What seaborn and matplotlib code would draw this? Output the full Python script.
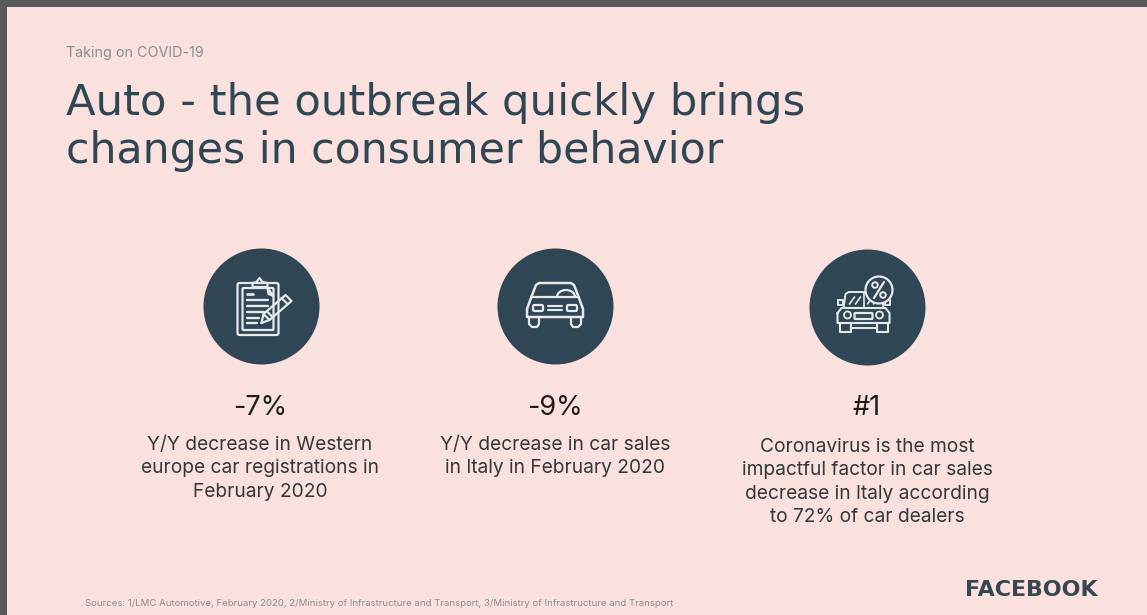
import numpy as np
import pandas as pd
import matplotlib
matplotlib.use("Agg")
import matplotlib.pyplot as plt
from matplotlib.patches import Rectangle, FancyBboxPatch, Circle, Arc
import seaborn as sns

# Slide copy
kicker = "Taking on COVID-19"
title_lines = ["Auto - the outbreak quickly brings", "changes in consumer behavior"]
stats = ["-7%", "-9%", "#1"]
descriptions = [
    "Y/Y decrease in Western\neurope car registrations in\nFebruary 2020",
    "Y/Y decrease in car sales\nin Italy in February 2020",
    "Coronavirus is the most\nimpactful factor in car sales\ndecrease in Italy according\nto 72% of car dealers",
]
sources = ("Sources: 1/LMC Automotive, February 2020, 2/Ministry of Infrastructure and Transport, "
           "3/Ministry of Infrastructure and Transport")
brand = "FACEBOOK"

# Colours
PAGE = "#FAE1DD"
FRAME = "#58595B"
DARK = "#2F4654"
GREY = "#868D96"
ICON = "#E6EAEB"

W, H = 1147, 615
sns.set_theme(style="white")
plt.rcParams["font.family"] = ["Inter", "DejaVu Sans"]

fig = plt.figure(figsize=(W / 100, H / 100), dpi=100, facecolor=FRAME)
ax = fig.add_axes([0, 0, 1, 1])
ax.axis("off")

# Slide panel inside the dark window frame
ax.add_patch(Rectangle((7, 7), W - 7, H - 7, fc=PAGE, ec="none", zorder=0))

# Badge discs
badges = pd.DataFrame({"x": [260.5, 555, 867], "y": [306, 306, 307], "stat": stats})
sns.scatterplot(data=badges, x="x", y="y", s=(116 * 0.72) ** 2, color=DARK,
                linewidth=0, ax=ax, legend=False, zorder=1)
ax.set_xlim(0, W)
ax.set_ylim(H, 0)
lw = 1.6


def seg(cx, cy, pts, width=lw):
    p = np.array(pts, dtype=float)
    ax.plot(cx + p[:, 0], cy + p[:, 1], color=ICON, lw=width, zorder=3,
            solid_capstyle="round", solid_joinstyle="round")


def rbox(cx, cy, x, y, w, h, r=1.5):
    ax.add_patch(FancyBboxPatch((cx + x, cy + y), w, h,
                                boxstyle=f"round,pad=0,rounding_size={r}",
                                fc="none", ec=ICON, lw=lw, zorder=3))


# Clipboard with pencil
cx, cy = 260.5, 306
rbox(cx, cy, -23, -23, 41, 52, 2)
rbox(cx, cy, -18, -18, 31, 42, 1)
seg(cx, cy, [(-8, -23), (-4, -24), (-1, -28), (2, -24), (7, -23), (7, -19), (-8, -19), (-8, -23)])
seg(cx, cy, [(7, -18), (13, -10), (8, -12), (7, -18)])
seg(cx, cy, [(-14, -12), (-8, -12)], 2)
for y, x2 in [(-6, 7), (0, 7), (6, 3), (12, -2), (17, -4)]:
    seg(cx, cy, [(-14, y), (x2, y)], 1.7)
seg(cx, cy, [(1, 17), (3, 8), (25, -11), (31, -5), (9, 14), (1, 17)])
seg(cx, cy, [(21, -8), (27, -2)])
seg(cx, cy, [(3, 8), (9, 14)])
seg(cx, cy, [(7, 6), (12, 11)])

# Front view of a car
cx, cy = 555, 306
seg(cx, cy, [(-28, 3), (-24, -8), (-19, -21), (-16, -23), (16, -23), (19, -21), (24, -8), (28, 3),
             (28, 11), (-28, 11), (-28, 3)], 1.8)
seg(cx, cy, [(-24, -9), (24, -9)], 1.6)
ax.add_patch(Arc((cx + 11, cy - 9), 18, 14, theta1=180, theta2=360, ec=ICON, lw=1.6, zorder=3))
rbox(cx, cy, -22, -1, 10, 6, 1.5)
rbox(cx, cy, 12, -1, 10, 6, 1.5)
seg(cx, cy, [(-7, 0), (7, 0)], 1.5)
seg(cx, cy, [(-7, 4), (7, 4)], 1.5)
seg(cx, cy, [(-26, 11), (-26, 18), (-23, 21), (-18, 21), (-16, 18), (-16, 11)], 1.6)
seg(cx, cy, [(26, 11), (26, 18), (23, 21), (18, 21), (16, 18), (16, 11)], 1.6)

# Car with a discount tag
cx, cy = 863.5, 307
seg(cx, cy, [(-20, 1), (-18, -13), (-15, -15), (15, -15), (18, -13), (20, 1)], 1.4)
seg(cx, cy, [(-26, -7), (-21, -7), (-21, -2), (-26, -2), (-26, -7)], 1.4)
seg(cx, cy, [(26, -7), (21, -7), (21, -2), (26, -2), (26, -7)], 1.4)
seg(cx, cy, [(-14, -3), (-9, -10)], 1.2)
seg(cx, cy, [(-8, -3), (-3, -10)], 1.2)
seg(cx, cy, [(4, -3), (9, -10)], 1.2)
seg(cx, cy, [(10, -3), (15, -10)], 1.2)
seg(cx, cy, [(0, -15), (0, 1)], 1.2)
seg(cx, cy, [(-26, 6), (-22, 1), (22, 1), (26, 6), (26, 16), (-26, 16), (-26, 6)], 1.5)
ax.add_patch(Circle((cx - 16, cy + 8), 3.5, fc="none", ec=ICON, lw=1.3, zorder=3))
ax.add_patch(Circle((cx + 16, cy + 8), 3.5, fc="none", ec=ICON, lw=1.3, zorder=3))
rbox(cx, cy, -9, 6, 18, 6, 0.8)
seg(cx, cy, [(-24, 16), (-24, 25), (-13, 25), (-13, 16)], 1.5)
seg(cx, cy, [(24, 16), (24, 25), (13, 25), (13, 16)], 1.5)
seg(cx, cy, [(-13, 21), (13, 21)], 1.4)
tx, ty = 879, 290
ax.add_patch(Circle((tx, ty), 13.5, fc=DARK, ec=ICON, lw=1.6, zorder=4))
ax.plot([tx - 5, tx + 5], [ty + 8, ty - 8], color=ICON, lw=1.6, zorder=5)
ax.add_patch(Circle((tx - 4, ty - 5), 2.8, fc="none", ec=ICON, lw=1.4, zorder=5))
ax.add_patch(Circle((tx + 4, ty + 5), 2.8, fc="none", ec=ICON, lw=1.4, zorder=5))

# Header text
ax.text(66, 56.5, kicker, fontsize=10.3, color=GREY, va="baseline", ha="left")
title_font = dict(color=DARK, va="baseline", ha="left", family=["DejaVu Sans"])
ax.text(66, 115, title_lines[0], fontsize=31.2, **title_font)
ax.text(66, 163, title_lines[1], fontsize=30.7, **title_font)

# Statistic columns
stat_x = [260, 555, 867]
first_baseline = [450, 450, 452]
for x, base, s, d in zip(stat_x, first_baseline, stats, descriptions):
    ax.text(x, 415, s, fontsize=19.5, color="#1C1C1C", ha="center", va="baseline")
    for i, line in enumerate(d.split("\n")):
        ax.text(x, base + i * 23.4, line, fontsize=13.8, color="#33383C", ha="center", va="baseline")

# Footer
ax.text(85, 606, sources, fontsize=6.9, color=GREY, va="baseline", ha="left")
ax.text(1098, 596, brand, fontsize=15.9, color="#36474F", va="baseline", ha="right",
        fontweight="bold", family=["DejaVu Sans"])

fig.savefig("out.png", dpi=100, facecolor=FRAME)
